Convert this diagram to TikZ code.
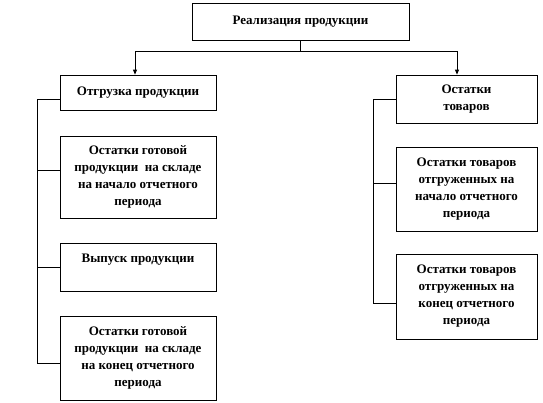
\documentclass[tikz,border=0pt]{standalone}
\usepackage{fontspec}
\setmainfont{Liberation Serif}
\usetikzlibrary{arrows.meta}

\begin{document}
\begin{tikzpicture}[x=1pt,y=1pt]
\tikzstyle{every node}+=[inner sep=0pt]
\tikzstyle{blok}=[draw=black, line width=0.8pt, align=center, font=\bfseries\fontsize{13}{17}\selectfont]
\tikzstyle{lin}=[black, line width=0.8pt]
\tikzstyle{strelka}=[lin, -{Triangle[length=5pt,width=4pt]}]
\useasboundingbox (0,0) rectangle (543,-402);
% top
\node [blok, minimum width=217, minimum height=37] (real) at (300.5,-21.5) {Реализация продукции};
% left column
\node [blok, minimum width=156, minimum height=35] (otgr) at (138,-92.5) {Отгрузка продукции};
\node [blok, minimum width=156, minimum height=82] (ostgn) at (138,-177) {Остатки готовой\\продукции~ на складе\\на начало отчетного\\периода};
\node [blok, minimum width=156, minimum height=48] (vyp) at (138,-267) {Выпуск продукции\\~};
\node [blok, minimum width=156, minimum height=84] (ostgk) at (138,-358) {Остатки готовой\\продукции~ на складе\\на конец отчетного\\периода};
% right column
\node [blok, minimum width=141, minimum height=48] (osttov) at (466.5,-99) {Остатки\\товаров};
\node [blok, minimum width=141, minimum height=84] (osttn) at (466.5,-189) {Остатки товаров\\отгруженных на\\начало отчетного\\периода};
\node [blok, minimum width=141, minimum height=85] (osttk) at (466.5,-296.5) {Остатки товаров\\отгруженных на\\конец отчетного\\периода};
% arrows from top
\coordinate (vetv) at (real.south |- 0,-51);
\coordinate (lv) at (135,-51);
\coordinate (pv) at (457,-51);
\draw [lin] (real.south) -- (vetv);
\draw [lin] (lv) -- (pv);
\draw [strelka] (lv) -- (lv |- otgr.north);
\draw [strelka] (pv) -- (pv |- osttov.north);
% left spine
\coordinate (l1) at (37,-99);
\coordinate (l2) at (37,-170);
\coordinate (l3) at (37,-267);
\coordinate (l4) at (37,-363);
\draw [lin] (l1) -- (l4);
\draw [lin] (l1) -- (l1 -| otgr.west);
\draw [lin] (l2) -- (l2 -| ostgn.west);
\draw [lin] (l3) -- (l3 -| vyp.west);
\draw [lin] (l4) -- (l4 -| ostgk.west);
% right spine
\coordinate (r1) at (373,-99);
\coordinate (r2) at (373,-183);
\coordinate (r3) at (373,-303);
\draw [lin] (r1) -- (r3);
\draw [lin] (r1) -- (r1 -| osttov.west);
\draw [lin] (r2) -- (r2 -| osttn.west);
\draw [lin] (r3) -- (r3 -| osttk.west);
\end{tikzpicture}
\end{document}
